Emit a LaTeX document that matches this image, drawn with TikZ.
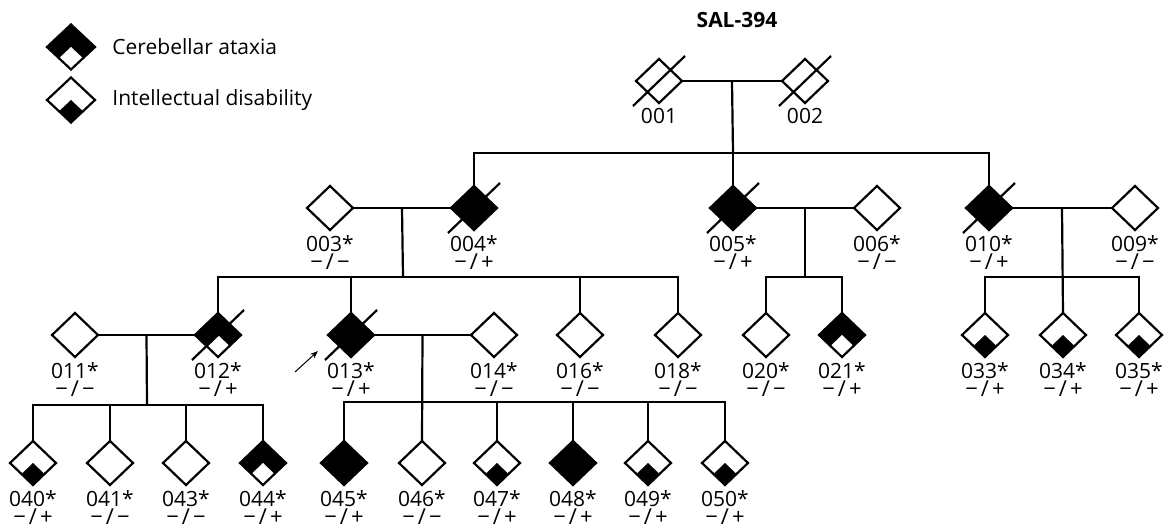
\documentclass[tikz,border=0pt]{standalone}
\usepackage{fontspec}
\setmainfont{Open Sans}
\usetikzlibrary{positioning, shapes.geometric, arrows.meta, calc}

\newcommand{\gt}[1]{\\[-3pt]{\fontsize{22}{20}\selectfont #1}}
\newcommand{\gsep}{\hspace{3pt}/\hspace{3pt}}

\begin{document}
\begin{tikzpicture}[
  x=1pt, y=-1pt,
  line width=2.2pt,
  ind/.style={
    draw,
    diamond,
    minimum width=46pt,
    minimum height=44pt,
    inner sep=0pt,
    outer sep=0pt,
    fill=white
  },
  lowq/.style={
    path picture={
      \fill[#1] (path picture bounding box.center)
        -- ($(path picture bounding box.west)!.5!(path picture bounding box.south)$)
        -- (path picture bounding box.south)
        -- ($(path picture bounding box.east)!.5!(path picture bounding box.south)$)
        -- cycle;
    }
  },
  aff/.style={ind, fill=black},
  ataxia/.style={ind, fill=black, lowq=white},
  intel/.style={ind, lowq=black},
  idlab/.style={
    align=center,
    inner sep=0pt,
    font=\fontsize{21}{21}\selectfont,
    label distance=4pt
  },
  slash/.style={line width=2.2pt},
  >={Stealth[length=8pt, width=6pt]}
]
\useasboundingbox (0,0) rectangle (1171,525);

% Legend
\node[ataxia, minimum width=48pt, minimum height=45pt] (legA) at (71,47) {};
\node[intel, minimum width=48pt, minimum height=45pt] (legI) at (71,100) {};
\node[font=\fontsize{21}{21}\selectfont, right=13pt of legA] (txtA) {Cerebellar ataxia};
\node[font=\fontsize{21}{21}\selectfont, right=13pt of legI] (txtI) {Intellectual disability};

% Title
\node[font=\fontsize{21}{21}\selectfont\bfseries] (title) at (737,20) {SAL-394};

% Generation I
\node[ind, label={[idlab]below:001}] (n001) at (659,81) {};
\node[ind, label={[idlab]below:002}] (n002) at (805,81) {};

% Generation II
\node[ind, label={[idlab]below:003*\gt{−\gsep−}}] (n003) at (330,208) {};
\node[aff, label={[idlab]below:004*\gt{−\gsep+}}] (n004) at (474,208) {};
\node[aff, label={[idlab]below:005*\gt{−\gsep+}}] (n005) at (733,208) {};
\node[ind, label={[idlab]below:006*\gt{−\gsep−}}] (n006) at (877,208) {};
\node[aff, label={[idlab]below:010*\gt{−\gsep+}}] (n010) at (989,208) {};
\node[ind, label={[idlab]below:009*\gt{−\gsep−}}] (n009) at (1135,208) {};

% Generation III
\node[ind, label={[idlab]below:011*\gt{−\gsep−}}] (n011) at (75,335) {};
\node[ataxia, label={[idlab]below:012*\gt{−\gsep+}}] (n012) at (218,335) {};
\node[aff, label={[idlab]below:013*\gt{−\gsep+}}] (n013) at (351,335) {};
\node[ind, label={[idlab]below:014*\gt{−\gsep−}}] (n014) at (494,335) {};
\node[ind, label={[idlab]below:016*\gt{−\gsep−}}] (n016) at (580,335) {};
\node[ind, label={[idlab]below:018*\gt{−\gsep−}}] (n018) at (678,335) {};
\node[ind, label={[idlab]below:020*\gt{−\gsep−}}] (n020) at (766,335) {};
\node[ataxia, label={[idlab]below:021*\gt{−\gsep+}}] (n021) at (842,335) {};
\node[intel, label={[idlab]below:033*\gt{−\gsep+}}] (n033) at (985,335) {};
\node[intel, label={[idlab]below:034*\gt{−\gsep+}}] (n034) at (1063,335) {};
\node[intel, label={[idlab]below:035*\gt{−\gsep+}}] (n035) at (1139,335) {};

% Generation IV
\node[intel, label={[idlab]below:040*\gt{−\gsep+}}] (n040) at (33,463) {};
\node[ind, label={[idlab]below:041*\gt{−\gsep−}}] (n041) at (110,463) {};
\node[ind, label={[idlab]below:043*\gt{−\gsep−}}] (n043) at (186,463) {};
\node[ataxia, label={[idlab]below:044*\gt{−\gsep+}}] (n044) at (263,463) {};
\node[aff, label={[idlab]below:045*\gt{−\gsep+}}] (n045) at (344,463) {};
\node[ind, label={[idlab]below:046*\gt{−\gsep−}}] (n046) at (422,463) {};
\node[intel, label={[idlab]below:047*\gt{−\gsep+}}] (n047) at (497,463) {};
\node[aff, label={[idlab]below:048*\gt{−\gsep+}}] (n048) at (573,463) {};
\node[intel, label={[idlab]below:049*\gt{−\gsep+}}] (n049) at (648,463) {};
\node[intel, label={[idlab]below:050*\gt{−\gsep+}}] (n050) at (725,463) {};

% Sibship levels
\coordinate (s1) at (733,153);
\coordinate (s2) at (403,277);
\coordinate (s3) at (805,277);
\coordinate (s4) at (1062,277);
\coordinate (s5) at (147,405);
\coordinate (s6) at (423,402);

% Couples and descent
\draw (n001) -- (n002);
\draw ($(n001)!.5!(n002)$) -- (s1);
\draw (n004.north) |- (s1) -| (n010.north);
\draw (n005.north) -- (s1);

\draw (n003) -- (n004);
\draw ($(n003)!.5!(n004)$) -- (s2);
\draw (n012.north) |- (s2) -| (n018.north);
\draw (n013.north) -- (n013 |- s2);
\draw (n016.north) -- (n016 |- s2);

\draw (n005) -- (n006);
\draw ($(n005)!.5!(n006)$) -- (s3);
\draw (n020.north) |- (s3) -| (n021.north);

\draw (n010) -- (n009);
\draw ($(n010)!.5!(n009)$) -- (n034.north);
\draw (n033.north) |- (s4) -| (n035.north);

\draw (n011) -- (n012);
\draw ($(n011)!.5!(n012)$) -- (s5);
\draw (n040.north) |- (s5) -| (n044.north);
\draw (n041.north) -- (n041 |- s5);
\draw (n043.north) -- (n043 |- s5);

\draw (n013) -- (n014);
\draw ($(n013)!.5!(n014)$) -- (n046.north);
\draw (n045.north) |- (s6) -| (n050.north);
\draw (n047.north) -- (n047 |- s6);
\draw (n048.north) -- (n048 |- s6);
\draw (n049.north) -- (n049 |- s6);

% Deceased
\foreach \n in {n001, n002, n004, n005, n010, n012, n013}
  \draw[slash] ($(\n)+(-26,25)$) -- ($(\n)+(26,-25)$);

% Proband
\coordinate (arrtail) at (295,372);
\coordinate (arrhead) at (318,351);
\draw[->, line width=1pt] (arrtail) -- (arrhead);

\end{tikzpicture}
\end{document}
